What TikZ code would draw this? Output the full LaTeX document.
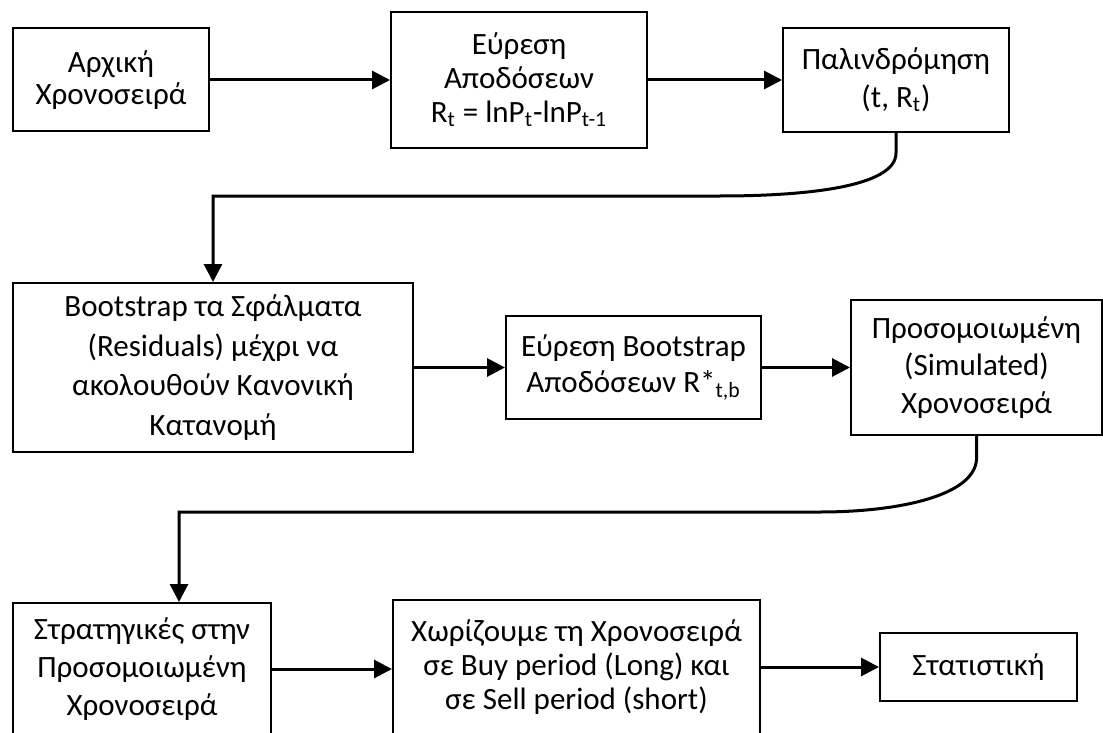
\documentclass[tikz,border=0pt]{standalone}
\usepackage{fontspec}
\setmainfont{Carlito}
\usetikzlibrary{arrows.meta}
\tikzset{
	blk/.style={draw,line width=1pt,align=center,inner sep=0pt,font=\fontsize{15.5}{#1}\selectfont},
	blk/.default=18.8,
	conn/.style={line width=1.5pt,-{Triangle[length=9pt,width=9pt]}}
}
\begin{document}
\begin{tikzpicture}[x=0.5pt,y=-0.5pt,line join=miter]
	\useasboundingbox (0,0) rectangle (1103,733);
	\clip (0,0) rectangle (1103,733);
	% first row
	\node[blk=16,minimum width=98pt,minimum height=51.5pt] (arx) at (111,80) {Αρχική\\Χρονοσειρά};
	\node[blk=17,minimum width=128pt,minimum height=68pt] (apod) at (519,80) {Εύρεση\\Αποδόσεων\\R\textsubscript{t} = lnP\textsubscript{t}-lnP\textsubscript{t-1}};
	\node[blk=19,minimum width=113pt,minimum height=52pt] (pal) at (896,80) {Παλινδρόμηση\\(t, R\textsubscript{t})};
	% second row
	\node[blk=19.7,minimum width=200pt,minimum height=84.5pt] (boot) at (213,367.5) {Bootstrap τα Σφάλματα\\(Residuals) μέχρι να\\ακολουθούν Κανονική\\Κατανομή};
	\node[blk=18.3,minimum width=127.5pt,minimum height=51.5pt] (bapod) at (633.5,367.5) {Εύρεση Bootstrap\\Αποδόσεων R*\textsubscript{t,b}};
	\node[blk,minimum width=125.5pt,minimum height=67.5pt] (sim) at (976.5,367.5) {Προσομοιωμένη\\(Simulated)\\Χρονοσειρά};
	% third row
	\node[blk,minimum width=129pt,minimum height=66pt] (strat) at (142,669) {Στρατηγικές στην\\Προσομοιωμένη\\Χρονοσειρά};
	\node[blk=17,minimum width=183.5pt,minimum height=67pt] (xor) at (576.5,667) {Χωρίζουμε τη Χρονοσειρά\\σε Buy period (Long) και\\σε Sell period (short)};
	\node[blk,minimum width=98.5pt,minimum height=34pt] (stat) at (978.5,667) {Στατιστική};
	\coordinate (k1) at (720,196);
	\coordinate (k2) at (820,512);
	\coordinate (g1) at (179,512);
	\draw[conn] (arx) -- (apod);
	\draw[conn] (apod) -- (pal);
	\draw[conn] (pal.south) -- ++(0,20) .. controls (896,188) and (800,196) .. (k1) -| (boot.north);
	\draw[conn] (boot.east) -- (bapod.west);
	\draw[conn] (bapod) -- (sim);
	\draw[conn] (sim.south) -- ++(0,20) .. controls (979,495) and (900,512) .. (k2) -- (g1) -- (g1 |- strat.north);
	\draw[conn] (strat.east) -- (strat.east -| xor.west);
	\draw[conn] (xor.east) -- (xor.east -| stat.west);
\end{tikzpicture}
\end{document}
